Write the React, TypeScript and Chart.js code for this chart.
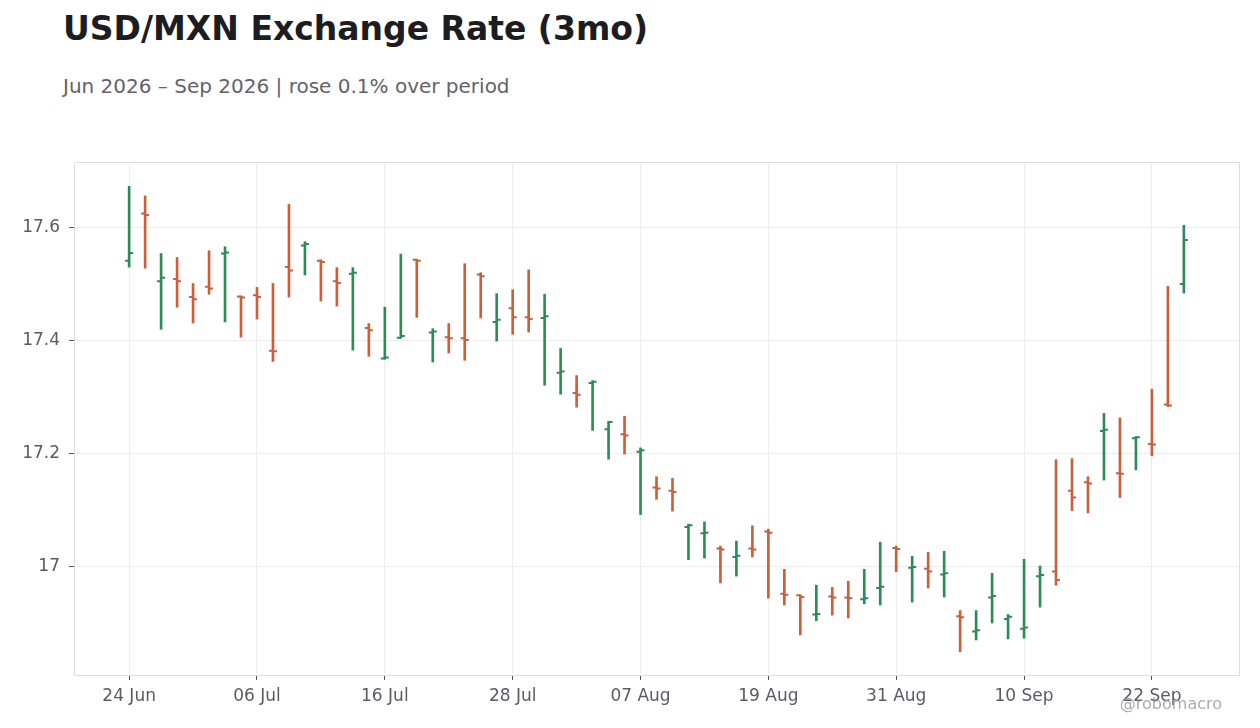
import React, { useEffect, useRef } from 'react';
import { Chart, registerables } from 'chart.js';

Chart.register(...registerables);

// business days, 24 Jun 2026 -> 24 Sep 2026
const dates = [
  '24 Jun', '25 Jun', '26 Jun', '29 Jun', '30 Jun',
  '01 Jul', '02 Jul', '03 Jul', '06 Jul', '07 Jul', '08 Jul', '09 Jul', '10 Jul',
  '13 Jul', '14 Jul', '15 Jul', '16 Jul', '17 Jul', '20 Jul', '21 Jul', '22 Jul',
  '23 Jul', '24 Jul', '27 Jul', '28 Jul', '29 Jul', '30 Jul', '31 Jul',
  '03 Aug', '04 Aug', '05 Aug', '06 Aug', '07 Aug', '10 Aug', '11 Aug', '12 Aug',
  '13 Aug', '14 Aug', '17 Aug', '18 Aug', '19 Aug', '20 Aug', '21 Aug', '24 Aug',
  '25 Aug', '26 Aug', '27 Aug', '28 Aug', '31 Aug',
  '01 Sep', '02 Sep', '03 Sep', '04 Sep', '07 Sep', '08 Sep', '09 Sep', '10 Sep',
  '11 Sep', '14 Sep', '15 Sep', '16 Sep', '17 Sep', '18 Sep', '21 Sep', '22 Sep',
  '23 Sep', '24 Sep',
];

const opens = [
  17.541, 17.625, 17.505, 17.509, 17.477, 17.495, 17.554, 17.478, 17.480, 17.382,
  17.530, 17.568, 17.541, 17.505, 17.518, 17.422, 17.368, 17.405, 17.543, 17.414,
  17.406, 17.404, 17.517, 17.433, 17.457, 17.441, 17.440, 17.343, 17.307, 17.325,
  17.243, 17.234, 17.203, 17.140, 17.134, 17.070, 17.059, 17.032, 17.017, 17.032,
  17.062, 16.952, 16.949, 16.915, 16.947, 16.945, 16.942, 16.962, 17.033, 16.998,
  16.996, 16.986, 16.912, 16.885, 16.945, 16.907, 16.890, 16.983, 16.991, 17.134,
  17.149, 17.240, 17.165, 17.227, 17.217, 17.287, 17.500,
];

const highs = [
  17.673, 17.656, 17.554, 17.547, 17.501, 17.559, 17.566, 17.479, 17.494, 17.501,
  17.641, 17.575, 17.543, 17.529, 17.529, 17.430, 17.459, 17.553, 17.544, 17.421,
  17.430, 17.536, 17.520, 17.483, 17.490, 17.525, 17.482, 17.386, 17.338, 17.329,
  17.257, 17.266, 17.210, 17.159, 17.156, 17.075, 17.079, 17.036, 17.045, 17.072,
  17.066, 16.995, 16.950, 16.967, 16.963, 16.974, 16.995, 17.043, 17.036, 17.018,
  17.025, 17.027, 16.922, 16.922, 16.988, 16.915, 17.013, 17.001, 17.189, 17.191,
  17.159, 17.271, 17.263, 17.230, 17.314, 17.496, 17.604,
];

const lows = [
  17.530, 17.528, 17.420, 17.459, 17.431, 17.482, 17.433, 17.406, 17.438, 17.363,
  17.477, 17.516, 17.470, 17.461, 17.383, 17.372, 17.367, 17.404, 17.441, 17.362,
  17.378, 17.365, 17.440, 17.399, 17.411, 17.415, 17.321, 17.305, 17.282, 17.241,
  17.190, 17.199, 17.092, 17.119, 17.098, 17.012, 17.015, 16.971, 16.983, 17.017,
  16.944, 16.932, 16.879, 16.904, 16.914, 16.909, 16.934, 16.932, 16.991, 16.937,
  16.962, 16.946, 16.849, 16.870, 16.900, 16.872, 16.873, 16.928, 16.967, 17.099,
  17.095, 17.153, 17.122, 17.171, 17.196, 17.283, 17.484,
];

const closes = [
  17.555, 17.622, 17.511, 17.505, 17.473, 17.492, 17.556, 17.476, 17.477, 17.381,
  17.524, 17.571, 17.539, 17.502, 17.520, 17.418, 17.370, 17.408, 17.541, 17.416,
  17.404, 17.401, 17.514, 17.437, 17.441, 17.438, 17.443, 17.345, 17.304, 17.327,
  17.256, 17.232, 17.206, 17.138, 17.132, 17.073, 17.060, 17.030, 17.019, 17.030,
  17.060, 16.950, 16.946, 16.916, 16.945, 16.944, 16.944, 16.964, 17.031, 16.999,
  16.991, 16.988, 16.910, 16.887, 16.948, 16.911, 16.892, 16.985, 16.976, 17.122,
  17.147, 17.242, 17.164, 17.229, 17.216, 17.285, 17.578,
];

const yTicks = [17.0, 17.2, 17.4, 17.6];

const UP = '#2e8b57';
const DOWN = '#c8603c';
const FONT = "'DejaVu Sans', sans-serif";

const colorFor = (i: number) => (closes[i] >= opens[i] ? UP : DOWN);

// open/close ticks + plot frame
const ohlcPlugin = {
  id: 'ohlcTicks',
  beforeDatasetsDraw(chart: any) {
    const { ctx, chartArea } = chart;
    ctx.save();
    ctx.strokeStyle = '#dedede';
    ctx.lineWidth = 1;
    ctx.strokeRect(
      Math.round(chartArea.left) + 0.5,
      Math.round(chartArea.top) + 0.5,
      Math.round(chartArea.right - chartArea.left),
      Math.round(chartArea.bottom - chartArea.top)
    );
    ctx.restore();
  },
  afterDatasetsDraw(chart: any) {
    const { ctx } = chart;
    const xs = chart.scales.x;
    const ys = chart.scales.y;
    ctx.save();
    ctx.lineWidth = 2;
    opens.forEach((o, i) => {
      const x = xs.getPixelForValue(i);
      const yo = ys.getPixelForValue(o);
      const yc = ys.getPixelForValue(closes[i]);
      ctx.strokeStyle = colorFor(i);
      ctx.beginPath();
      ctx.moveTo(x - 4, yo);
      ctx.lineTo(x, yo);
      ctx.moveTo(x, yc);
      ctx.lineTo(x + 4, yc);
      ctx.stroke();
    });
    ctx.restore();
  },
};

const OhlcChart: React.FC = () => {
  const canvasRef = useRef<HTMLCanvasElement | null>(null);

  useEffect(() => {
    if (!canvasRef.current) return;
    const chart = new Chart(canvasRef.current, {
      type: 'bar',
      data: {
        datasets: [
          {
            data: lows.map((l, i) => ({ x: i, y: [l, highs[i]] })) as any,
            backgroundColor: lows.map((_, i) => colorFor(i)),
            barThickness: 2,
            borderWidth: 0,
          },
        ],
      },
      options: {
        responsive: true,
        maintainAspectRatio: false,
        animation: false,
        layout: { padding: { left: 0, right: 21, top: 22, bottom: 0 } },
        plugins: {
          legend: { display: false },
          tooltip: { enabled: false },
        },
        scales: {
          x: {
            type: 'linear',
            min: -3.45,
            max: 69.45,
            offset: false,
            grid: { offset: false, color: '#ececec', tickColor: '#555', tickLength: 5, lineWidth: 1 },
            border: { display: false },
            afterFit: (s: any) => { s.height = 53; },
            ticks: {
              stepSize: 8,
              includeBounds: false,
              autoSkip: false,
              maxRotation: 0,
              padding: 6,
              color: '#5a5a66',
              font: { family: FONT, size: 17 },
              callback: (v: any) => (dates[v] !== undefined ? dates[v] : null),
            },
          },
          y: {
            min: 16.808,
            max: 17.716,
            grid: { color: '#ececec', tickColor: '#555', tickLength: 5 },
            border: { display: false },
            afterFit: (s: any) => { s.width = 74; },
            afterBuildTicks: (s: any) => { s.ticks = yTicks.map((v) => ({ value: v })); },
            ticks: {
              padding: 9,
              color: '#5a5a66',
              font: { family: FONT, size: 17 },
              callback: (v: any) => String(Number(Number(v).toFixed(1))),
            },
          },
        },
      },
      plugins: [ohlcPlugin],
    });
    return () => chart.destroy();
  }, []);

  return (
    <div style={{ position: 'absolute', left: 0, top: 140, width: 1260, height: 588 }}>
      <canvas ref={canvasRef}></canvas>
    </div>
  );
};

const App: React.FC = () => {
  return (
    <div
      style={{
        position: 'fixed',
        left: 0,
        top: 0,
        width: 1260,
        height: 728,
        background: '#fff',
        fontFamily: FONT,
        overflow: 'hidden',
      }}
    >
      <div
        style={{
          position: 'absolute', left: 63, top: 12, fontSize: 33, lineHeight: '33px',
          fontWeight: 'bold', color: '#1c1c21', whiteSpace: 'nowrap',
        }}
      >
        USD/MXN Exchange Rate (3mo)
      </div>
      <div
        style={{
          position: 'absolute', left: 63, top: 76, fontSize: 20, lineHeight: '20px',
          color: '#62626c', whiteSpace: 'nowrap',
        }}
      >
        Jun 2026 – Sep 2026 | rose 0.1% over period
      </div>
      <OhlcChart />
      <div
        style={{
          position: 'absolute', right: 38, top: 696, fontSize: 16, lineHeight: '16px',
          color: 'rgba(150,150,158,0.8)', whiteSpace: 'nowrap',
        }}
      >
        @robomacro
      </div>
    </div>
  );
};

export default App;
